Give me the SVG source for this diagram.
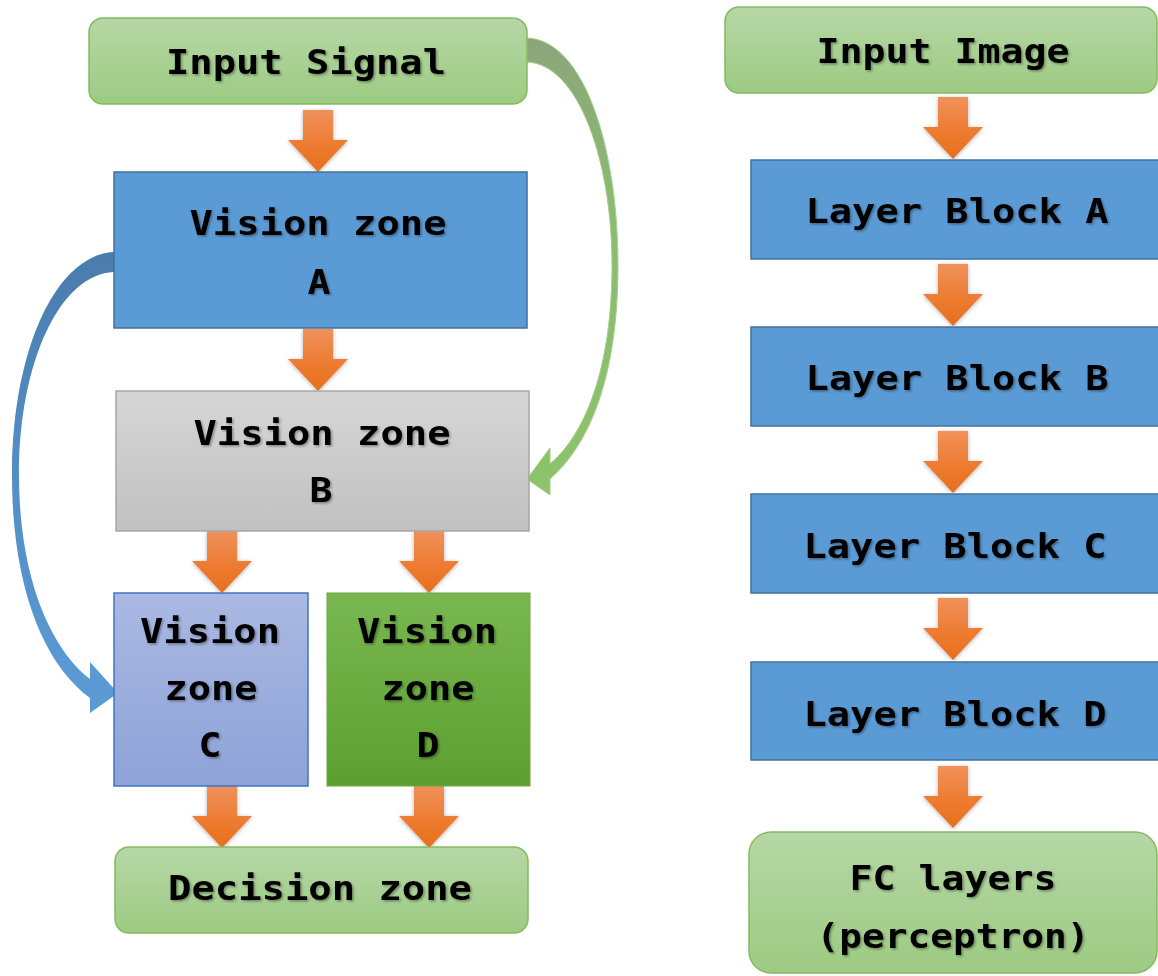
<svg xmlns="http://www.w3.org/2000/svg" width="1158" height="976" viewBox="0 0 1158 976">
  <defs>
    <linearGradient id="gGreenBox" x1="0" y1="0" x2="0" y2="1">
      <stop offset="0" stop-color="#b6d7a6"/>
      <stop offset="1" stop-color="#9dcb82"/>
    </linearGradient>
    <linearGradient id="gGray" x1="0" y1="0" x2="0" y2="1">
      <stop offset="0" stop-color="#d6d6d6"/>
      <stop offset="1" stop-color="#c1c1c1"/>
    </linearGradient>
    <linearGradient id="gLavender" x1="0" y1="0" x2="0" y2="1">
      <stop offset="0" stop-color="#aab9e2"/>
      <stop offset="1" stop-color="#8da2d8"/>
    </linearGradient>
    <linearGradient id="gDarkGreen" x1="0" y1="0" x2="0" y2="1">
      <stop offset="0" stop-color="#79b851"/>
      <stop offset="1" stop-color="#5d9f2f"/>
    </linearGradient>
    <linearGradient id="gOrange" x1="0" y1="0" x2="0" y2="1">
      <stop offset="0" stop-color="#f0915a"/>
      <stop offset="0.6" stop-color="#ed7a2e"/>
      <stop offset="1" stop-color="#e66f1d"/>
    </linearGradient>
    <linearGradient id="gRibbonGreen" x1="0" y1="0" x2="0" y2="1">
      <stop offset="0" stop-color="#8ba67a"/>
      <stop offset="0.35" stop-color="#8cb974"/>
      <stop offset="1" stop-color="#8cc36b"/>
    </linearGradient>
    <linearGradient id="gRibbonBlue" x1="0" y1="0" x2="0" y2="1">
      <stop offset="0" stop-color="#4a7cab"/>
      <stop offset="0.4" stop-color="#528cc2"/>
      <stop offset="1" stop-color="#5b9bd5"/>
    </linearGradient>
    <filter id="softShadow" x="-30%" y="-30%" width="160%" height="160%">
      <feDropShadow dx="0" dy="1" stdDeviation="2" flood-color="#000" flood-opacity="0.3"/>
    </filter>
    <filter id="textShadow" x="-10%" y="-30%" width="120%" height="160%">
      <feDropShadow dx="1.5" dy="1.5" stdDeviation="1.2" flood-color="#000" flood-opacity="0.35"/>
    </filter>
    <!-- block arrow pointing down, centred on x=0, top at y=0 -->
    <path id="downArrow" d="M-15,0 H15 V30 H30 L0,62 L-30,30 H-15 Z" fill="url(#gOrange)"/>
    <style>
      .lbl { font-family: "DejaVu Sans Mono", "Liberation Mono", monospace; font-weight: bold; font-size: 33px; fill: #000; text-anchor: middle; filter: url(#textShadow); }
      .roundGreen { fill: url(#gGreenBox); stroke: #84bb62; stroke-width: 1.5; }
      .blueBlock { fill: #5b9bd5; stroke: #41719c; stroke-width: 1.5; }
    </style>
  </defs>

  <rect width="1158" height="976" fill="#ffffff"/>

  <!-- connectors -->
  <g id="connectors">
    <g filter="url(#softShadow)">
      <use href="#downArrow" x="318" y="110"/>
      <use href="#downArrow" x="318" y="329"/>
      <use href="#downArrow" x="222" y="531"/>
      <use href="#downArrow" x="429" y="531"/>
      <use href="#downArrow" x="222" y="786"/>
      <use href="#downArrow" x="429" y="786"/>
      <use href="#downArrow" x="953" y="97"/>
      <use href="#downArrow" x="953" y="264"/>
      <use href="#downArrow" x="953" y="431"/>
      <use href="#downArrow" x="953" y="598"/>
      <use href="#downArrow" x="953" y="766"/>
    </g>
    <!-- bypass: Input Signal to Vision zone B -->
    <path id="bypassSignal" d="M527,38 C585,40 618,150 618,265 C618,372 592,442 550,479 L550,495 L527,479 L550,448 L550,464 C588,432 612,362 612,265 C612,160 578,64 527,62 Z" fill="url(#gRibbonGreen)" stroke="#a3cf86" stroke-width="1"/>
    <!-- bypass: Vision zone A to Vision zone C -->
    <path id="bypassA" d="M114,252 C55,255 12,352 12,475 C12,590 45,665 90,698 L90,713 L118,693 L90,662 L90,679 C52,650 19,580 19,475 C19,362 60,274 114,272 Z" fill="url(#gRibbonBlue)"/>
  </g>

  <!-- left column -->
  <g id="input-signal">
    <rect class="roundGreen" x="89" y="18" width="438" height="86" rx="14"/>
    <text class="lbl" x="306" y="74" textLength="280" lengthAdjust="spacingAndGlyphs">Input Signal</text>
  </g>
  <g id="vision-a">
    <rect class="blueBlock" x="114" y="172" width="413" height="156"/>
    <text class="lbl" x="318" y="235" textLength="257" lengthAdjust="spacingAndGlyphs">Vision zone</text>
    <text class="lbl" x="319" y="294" textLength="23" lengthAdjust="spacingAndGlyphs">A</text>
  </g>
  <g id="vision-b">
    <rect x="116" y="391" width="413" height="140" fill="url(#gGray)" stroke="#a6a6a6" stroke-width="1.5"/>
    <text class="lbl" x="322" y="445" textLength="257" lengthAdjust="spacingAndGlyphs">Vision zone</text>
    <text class="lbl" x="321" y="502" textLength="23" lengthAdjust="spacingAndGlyphs">B</text>
  </g>
  <g id="vision-c">
    <rect x="114" y="593" width="194" height="193" fill="url(#gLavender)" stroke="#4472c4" stroke-width="1.5"/>
    <text class="lbl" x="210" y="643" textLength="140" lengthAdjust="spacingAndGlyphs">Vision</text>
    <text class="lbl" x="211" y="700" textLength="93" lengthAdjust="spacingAndGlyphs">zone</text>
    <text class="lbl" x="210" y="757" textLength="23" lengthAdjust="spacingAndGlyphs">C</text>
  </g>
  <g id="vision-d">
    <rect x="327" y="593" width="203" height="193" fill="url(#gDarkGreen)" stroke="#6aa83f" stroke-width="1"/>
    <text class="lbl" x="427" y="643" textLength="140" lengthAdjust="spacingAndGlyphs">Vision</text>
    <text class="lbl" x="428" y="700" textLength="93" lengthAdjust="spacingAndGlyphs">zone</text>
    <text class="lbl" x="428" y="757" textLength="23" lengthAdjust="spacingAndGlyphs">D</text>
  </g>
  <g id="decision">
    <rect class="roundGreen" x="115" y="847" width="413" height="86" rx="14"/>
    <text class="lbl" x="320" y="900" textLength="304" lengthAdjust="spacingAndGlyphs">Decision zone</text>
  </g>

  <!-- right column -->
  <g id="input-image">
    <rect class="roundGreen" x="725" y="7" width="432" height="86" rx="14"/>
    <text class="lbl" x="943" y="63" textLength="253" lengthAdjust="spacingAndGlyphs">Input Image</text>
  </g>
  <g id="layer-a">
    <rect class="blueBlock" x="751" y="160" width="412" height="99"/>
    <text class="lbl" x="957" y="223" textLength="303" lengthAdjust="spacingAndGlyphs">Layer Block A</text>
  </g>
  <g id="layer-b">
    <rect class="blueBlock" x="751" y="327" width="412" height="99"/>
    <text class="lbl" x="957" y="390" textLength="303" lengthAdjust="spacingAndGlyphs">Layer Block B</text>
  </g>
  <g id="layer-c">
    <rect class="blueBlock" x="751" y="494" width="412" height="99"/>
    <text class="lbl" x="955" y="558" textLength="303" lengthAdjust="spacingAndGlyphs">Layer Block C</text>
  </g>
  <g id="layer-d">
    <rect class="blueBlock" x="751" y="662" width="412" height="98"/>
    <text class="lbl" x="955" y="726" textLength="303" lengthAdjust="spacingAndGlyphs">Layer Block D</text>
  </g>
  <g id="fc-layers">
    <rect class="roundGreen" x="749" y="832" width="408" height="141" rx="22"/>
    <text class="lbl" x="953" y="890" textLength="207" lengthAdjust="spacingAndGlyphs">FC layers</text>
    <text class="lbl" x="953" y="948" textLength="273" lengthAdjust="spacingAndGlyphs">(perceptron)</text>
  </g>
</svg>
